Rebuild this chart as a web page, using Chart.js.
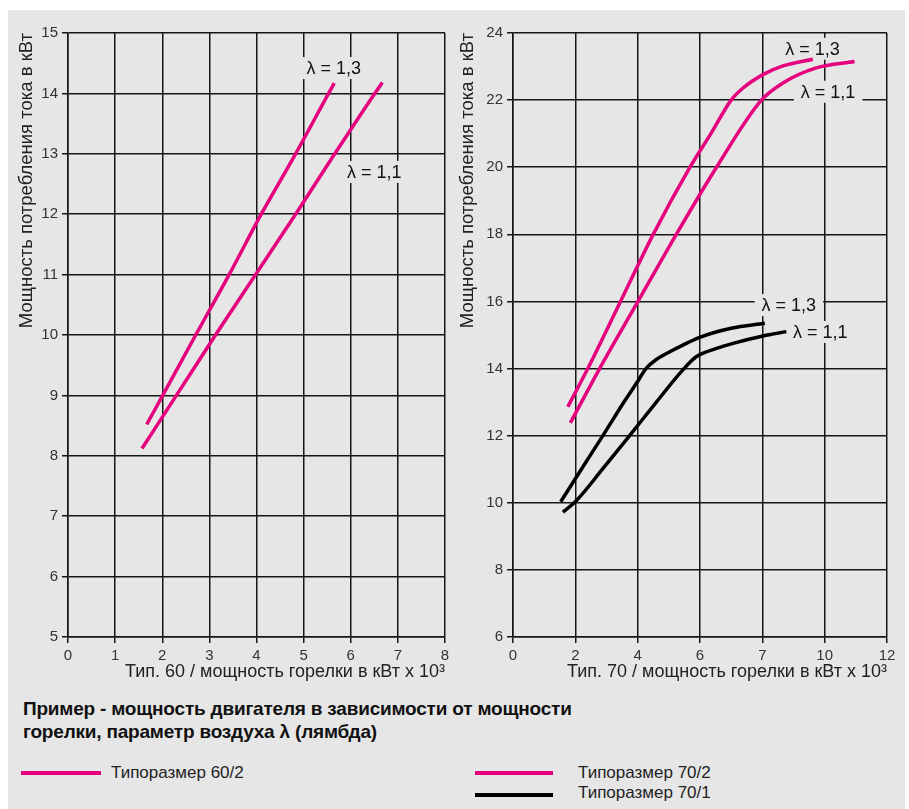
<!DOCTYPE html>
<html>
<head>
<meta charset="utf-8">
<script src="https://cdn.jsdelivr.net/npm/chart.js@4"></script>
<style>
  body { margin: 0; width: 909px; height: 809px; overflow: hidden; background: #fff; font-family: "Liberation Sans", Arial, sans-serif; }
  #panel { position: absolute; left: 8px; top: 10px; width: 897px; height: 799px; background: #e6e6e6; }
  canvas { position: absolute; top: 10px; }
  #c60 { left: 8px; }
  #c70 { left: 455px; }
  .head { position: absolute; left: 23px; top: 697px; font: bold 19px "Liberation Sans", Arial, sans-serif; line-height: 23px; color: #111; letter-spacing: -0.2px; }
  .sw { position: absolute; height: 4px; }
  .lt { position: absolute; font: 17px "Liberation Sans", Arial, sans-serif; color: #222; line-height: 20px; }
</style>
</head>
<body>
<div id="panel"></div>
<canvas id="c60" width="447" height="680"></canvas>
<canvas id="c70" width="450" height="680"></canvas>

<div class="head">Пример - мощность двигателя в зависимости от мощности<br>горелки, параметр воздуха λ (лямбда)</div>

<div class="sw" style="left:21px;top:771px;width:80px;background:#e5007e"></div>
<div class="lt" style="left:111px;top:763px">Типоразмер 60/2</div>
<div class="sw" style="left:475px;top:771px;width:78px;background:#e5007e"></div>
<div class="lt" style="left:578px;top:763px">Типоразмер 70/2</div>
<div class="sw" style="left:475px;top:793px;width:78px;background:#000"></div>
<div class="lt" style="left:578px;top:783px">Типоразмер 70/1</div>

<script>
// Тип. 60 (типоразмер 60/2)
const x60_13 = [1.67, 2.01, 2.71, 3.42, 4.10, 4.83, 5.53, 5.65];
const y60_13 = [8.52, 9, 10, 11, 12, 13, 14, 14.17];
const x60_11 = [1.57, 2.30, 3.13, 3.98, 4.83, 5.66, 6.51, 6.67];
const y60_11 = [8.12, 9, 10, 11, 12, 13, 14, 14.18];

// Тип. 70 (типоразмер 70/2 и 70/1)
const x70_2_13 = [1.76, 2.40, 3.45, 4.50, 5.68, 6.35, 7.00, 7.38, 8.02, 8.66, 9.62];
const y70_2_13 = [12.86, 14, 16, 18, 20, 21, 22, 22.36, 22.76, 23.02, 23.22];
const x70_2_11 = [1.84, 2.78, 4.01, 5.24, 6.53, 7.97, 8.66, 9.73, 10.96];
const y70_2_11 = [12.38, 14, 16, 18, 20, 22, 22.51, 22.96, 23.15];
const x70_1_13 = [1.53, 2.25, 2.89, 3.53, 3.96, 4.28, 4.60, 5.03, 5.45, 5.99, 7.00, 8.08];
const y70_1_13 = [10.03, 11.08, 12.01, 12.96, 13.56, 14.01, 14.27, 14.50, 14.70, 14.93, 15.20, 15.35];
const x70_1_11 = [1.60, 2.03, 2.87, 3.74, 4.60, 5.45, 5.88, 6.53, 7.06, 8.02, 8.77];
const y70_1_11 = [9.72, 10.06, 11.0, 12, 13.0, 13.96, 14.35, 14.60, 14.75, 14.97, 15.10];

const xTicks70 = ['0', '2', '4', '6', '7', '10', '12'];

const labels60 = [
  { text: 'λ = 1,3', x: 5.64, y: 14.42 },
  { text: 'λ = 1,1', x: 6.50, y: 12.70 }
];
const labels70 = [
  { text: 'λ = 1,3', x: 9.61, y: 23.53 },
  { text: 'λ = 1,1', x: 10.11, y: 22.25 },
  { text: 'λ = 1,3', x: 8.85, y: 15.89 },
  { text: 'λ = 1,1', x: 9.86, y: 15.09 }
];

const PINK = '#e5007e';
const BG = '#e6e6e6';
const GRID = '#161616';
const FONT = '"Liberation Sans", Arial, sans-serif';

function pts(xs, ys) { return xs.map((v, i) => ({ x: v, y: ys[i] })); }

function line(xs, ys, color) {
  return {
    data: pts(xs, ys),
    borderColor: color,
    borderWidth: 3.5,
    pointRadius: 0,
    cubicInterpolationMode: 'monotone',
    borderCapStyle: 'butt',
    fill: false
  };
}

const lambdaLabels = {
  id: 'lambdaLabels',
  beforeDatasetsDraw(chart, args, opts) {
    const { ctx } = chart;
    const sx = chart.scales.x, sy = chart.scales.y;
    ctx.save();
    ctx.font = '18px ' + FONT;
    ctx.textAlign = 'center';
    ctx.textBaseline = 'middle';
    opts.items.forEach(it => {
      const px = sx.getPixelForValue(it.x);
      const py = sy.getPixelForValue(it.y);
      const w = ctx.measureText(it.text).width;
      ctx.fillStyle = BG;
      ctx.fillRect(px - w / 2 - 7, py - 11, w + 14, 22);
      ctx.fillStyle = '#111';
      ctx.fillText(it.text, px, py + 1);
    });
    ctx.restore();
  }
};

function makeChart(id, datasets, cfg) {
  return new Chart(document.getElementById(id), {
    type: 'line',
    data: { datasets },
    plugins: [lambdaLabels],
    options: {
      responsive: false,
      animation: false,
      layout: { padding: { top: 23, right: cfg.padRight, left: 0, bottom: 0 } },
      plugins: {
        legend: { display: false },
        tooltip: { enabled: false },
        lambdaLabels: { items: cfg.labels }
      },
      scales: {
        x: {
          type: 'linear',
          min: 0, max: cfg.xMax,
          afterFit: s => { s.height = 53; },
          ticks: {
            stepSize: cfg.xStep,
            padding: 4,
            color: '#333',
            font: { family: FONT, size: 15 },
            callback: cfg.xLabel
          },
          grid: { color: GRID, lineWidth: 1.5, tickLength: 6, tickColor: GRID },
          border: { color: GRID, width: 1.5 },
          title: {
            display: true,
            text: cfg.xTitle,
            align: 'end',
            color: '#222',
            font: { family: FONT, size: 18 },
            padding: { top: 0, bottom: 7 }
          }
        },
        y: {
          min: cfg.yMin, max: cfg.yMax,
          afterFit: s => { s.width = cfg.yWidth; },
          ticks: {
            stepSize: cfg.yStep,
            padding: 4,
            color: '#333',
            font: { family: FONT, size: 15 }
          },
          grid: { color: GRID, lineWidth: 1.5, tickLength: 6, tickColor: GRID },
          border: { color: GRID, width: 1.5 },
          title: {
            display: true,
            text: 'Мощность потребления тока в кВт',
            align: 'end',
            color: '#222',
            font: { family: FONT, size: 18.5 },
            padding: { top: cfg.yTitlePad, bottom: 0 }
          }
        }
      }
    }
  });
}

makeChart('c60', [
  line(x60_13, y60_13, PINK),
  line(x60_11, y60_11, PINK)
], {
  labels: labels60, padRight: 10, xMax: 8, xStep: 1, yMin: 5, yMax: 15, yStep: 1,
  yWidth: 60, yTitlePad: 8,
  xTitle: 'Тип. 60 / мощность горелки в кВт x 10³',
  xLabel: v => v
});

makeChart('c70', [
  line(x70_2_13, y70_2_13, PINK),
  line(x70_2_11, y70_2_11, PINK),
  line(x70_1_13, y70_1_13, '#000'),
  line(x70_1_11, y70_1_11, '#000')
], {
  labels: labels70, padRight: 18, xMax: 12, xStep: 2, yMin: 6, yMax: 24, yStep: 2,
  yWidth: 58, yTitlePad: 2,
  xTitle: 'Тип. 70 / мощность горелки в кВт x 10³',
  xLabel: v => xTicks70[Math.round(v / 2)]
});
</script>
</body>
</html>
